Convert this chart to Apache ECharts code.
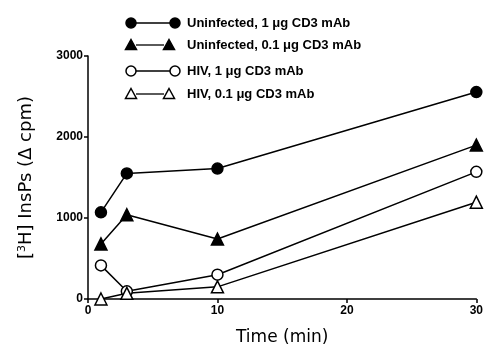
<!DOCTYPE html>
<html>
<head>
<meta charset="utf-8">
<script src="https://cdn.jsdelivr.net/npm/echarts@6/dist/echarts.min.js"></script>
<style>
  html, body { margin: 0; padding: 0; background: #fff; }
  #chart { width: 486px; height: 351px; }
</style>
</head>
<body>
<div id="chart"></div>
<script>
// time points (min)
const timeMin = [1, 3, 10, 30]

// [3H] InsPs, delta cpm
const uninf1 = [1070, 1550, 1610, 2555]
const uninf01 = [680, 1040, 740, 1900]
const hiv1 = [415, 95, 300, 1570]
const hiv01 = [0, 70, 150, 1195]

const seriesNames = [
  'Uninfected, 1 \u03bcg CD3 mAb',
  'Uninfected, 0.1 \u03bcg CD3 mAb',
  'HIV, 1 \u03bcg CD3 mAb',
  'HIV, 0.1 \u03bcg CD3 mAb'
]
const yTicks = [0, 1000, 2000, 3000]
const xTicks = [0, 10, 20, 30]

const font = 'Liberation Sans'
const titleFont = 'DejaVu Sans'
const pair = vals => timeMin.map((t, i) => [t, vals[i]])

const mkSeries = (name, vals, symbol, open) => ({
  name,
  type: 'line',
  data: pair(vals),
  symbol,
  symbolSize: symbol === 'circle' ? 11 : 12,
  showSymbol: true,
  color: '#000',
  lineStyle: { color: '#000', width: 1.5 },
  itemStyle: { color: open ? '#fff' : '#000', borderColor: '#000', borderWidth: 1.5 },
  z: open ? 4 : 3,
  animation: false
})

// legend keys: symbol — line — symbol, drawn as graphics
const legendRows = [
  { y: 23, sym: 'circle', fill: '#000', x2: 175 },
  { y: 45, sym: 'triangle', fill: '#000', x2: 169 },
  { y: 71, sym: 'circle', fill: '#fff', x2: 175 },
  { y: 94, sym: 'triangle', fill: '#fff', x2: 169 }
]
const mark = (sym, cx, cy, fill) => sym === 'circle'
  ? { type: 'circle', shape: { cx, cy, r: 5 }, style: { fill, stroke: '#000', lineWidth: 1.5 } }
  : { type: 'polygon', shape: { points: [[cx, cy - 5.5], [cx + 5.5, cy + 4.5], [cx - 5.5, cy + 4.5]] }, style: { fill, stroke: '#000', lineWidth: 1.5 } }

const legendGraphics = []
legendRows.forEach((r, i) => {
  legendGraphics.push({ type: 'line', shape: { x1: 136, y1: r.y, x2: r.x2 - 5, y2: r.y }, style: { stroke: '#000', lineWidth: 1.3 } })
  legendGraphics.push(mark(r.sym, 131, r.y, r.fill))
  legendGraphics.push(mark(r.sym, r.x2, r.y, r.fill))
  legendGraphics.push({
    type: 'text', x: 187, y: r.y,
    style: { text: seriesNames[i], fill: '#000', font: 'bold 13px "Liberation Sans"', textVerticalAlign: 'middle' }
  })
})

const chart = echarts.init(document.getElementById('chart'), null, { renderer: 'canvas' })
chart.setOption({
  backgroundColor: '#fff',
  animation: false,
  grid: { left: 88, right: 5, top: 56, bottom: 50.5 },
  xAxis: {
    type: 'value',
    min: xTicks[0],
    max: xTicks[xTicks.length - 1],
    interval: 10,
    name: 'Time (min)',
    nameLocation: 'middle',
    nameGap: 30,
    nameTextStyle: { fontFamily: titleFont, fontSize: 17, color: '#000' },
    axisLine: { lineStyle: { color: '#000', width: 1.5 } },
    axisTick: { length: 4, lineStyle: { color: '#000', width: 1.5 } },
    axisLabel: { color: '#000', fontFamily: font, fontWeight: 'bold', fontSize: 12, margin: 6, formatter: v => String(v) },
    splitLine: { show: false }
  },
  yAxis: {
    type: 'value',
    min: yTicks[0],
    max: yTicks[yTicks.length - 1],
    interval: 1000,
    name: '[{sup|3}H] InsPs (\u0394 cpm)',
    nameLocation: 'middle',
    nameGap: 52,
    nameTextStyle: {
      fontFamily: titleFont, fontSize: 18, color: '#000',
      rich: { sup: { fontFamily: titleFont, fontSize: 11, verticalAlign: 'top', padding: [0, 0, 8, 0] } }
    },
    axisLine: { show: true, lineStyle: { color: '#000', width: 1.5 } },
    axisTick: { show: true, length: 4, lineStyle: { color: '#000', width: 1.5 } },
    axisLabel: { color: '#000', fontFamily: font, fontWeight: 'bold', fontSize: 12, margin: 5, formatter: v => String(v) },
    splitLine: { show: false }
  },
  series: [
    mkSeries(seriesNames[0], uninf1, 'circle', false),
    mkSeries(seriesNames[1], uninf01, 'triangle', false),
    mkSeries(seriesNames[2], hiv1, 'circle', true),
    mkSeries(seriesNames[3], hiv01, 'triangle', true)
  ],
  graphic: legendGraphics
})
</script>
</body>
</html>
